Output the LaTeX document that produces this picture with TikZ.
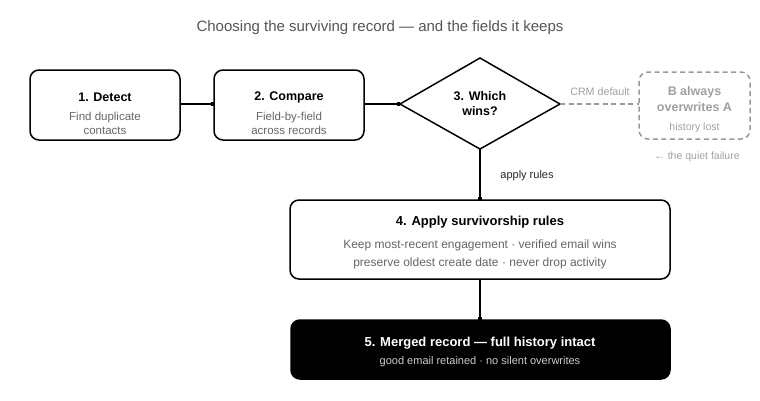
\documentclass[tikz,border=0pt]{standalone}
\usepackage{fontspec}
\setmainfont{Liberation Sans}
\usetikzlibrary{arrows.meta,shapes.geometric}
\definecolor{titlegray}{HTML}{555555}
\definecolor{subgray}{HTML}{666666}
\definecolor{ghost}{HTML}{999999}
\definecolor{ghosttext}{HTML}{A0A0A0}
\definecolor{lightsub}{HTML}{CCCCCC}
\tikzset{
  x=1pt,y=-1pt,
  stepbox/.style={draw=black,line width=1.5pt,rounded corners=9pt,fill=white,inner sep=0pt},
  ttl/.style={font=\bfseries\fontsize{12.5}{15}\selectfont,text=black},
  sub/.style={font=\fontsize{11.5}{14}\selectfont,text=subgray,align=center},
  conn/.style={draw=black,line width=1.5pt,-{Square[length=3pt,width=4pt]}},
}
\begin{document}
\begin{tikzpicture}
\useasboundingbox (0,0) rectangle (760,400);
\node[font=\fontsize{15}{17}\selectfont,text=titlegray] (title) at (380,28) {Choosing the surviving record — and the fields it keeps};

% box 1
\draw[stepbox] (30,70) rectangle (180,140);
\coordinate (b1r) at (180,104);
\node[ttl] (t1) at (105,97) {1. Detect};
\node[sub] (s1) at (105,123) {Find duplicate\\contacts};

% box 2
\draw[stepbox] (214,70) rectangle (364,140);
\coordinate (b2l) at (214,104);
\coordinate (b2r) at (364,104);
\node[ttl] (t2) at (289,97) {2. Compare};
\node[sub] (s2) at (289,123) {Field-by-field\\across records};

% diamond
\draw[line width=1.5pt,fill=white] (480,58) -- (560,104) -- (480,149) -- (400,104) -- cycle;
\coordinate (dl) at (400,104);
\coordinate (dr) at (560,104);
\coordinate (db) at (480,149);
\node[ttl,align=center] (t3) at (480,104) {3. Which\\wins?};

% dashed ghost box
\draw[draw=ghost,line width=1.5pt,dash pattern=on 5pt off 3.5pt,rounded corners=9pt] (639,72) rectangle (750,139);
\coordinate (gl) at (639,104);
\node[font=\bfseries\fontsize{12.5}{16}\selectfont,text=ghosttext,align=center] (t6) at (694.5,99) {B always\\overwrites A};
\node[font=\fontsize{10.5}{12}\selectfont,text=ghosttext] (s6) at (694.5,128) {history lost};
\node[font=\fontsize{10.5}{12}\selectfont,text=ghosttext] (qf) at (697,157) {← the quiet failure};
\draw[draw=ghost,line width=1.5pt,dash pattern=on 5pt off 3.5pt] (dr) -- (gl);
\node[font=\fontsize{10.7}{12}\selectfont,text=ghosttext] (crm) at (600,92) {CRM default};

% box 4
\draw[stepbox] (290,200) rectangle (670,279);
\coordinate (b4t) at (480,200);
\coordinate (b4b) at (480,279);
\node[font=\bfseries\fontsize{13}{15}\selectfont] (t4) at (480,222) {4. Apply survivorship rules};
\node[font=\fontsize{12}{18}\selectfont,text=subgray,align=center] (s4) at (480,254) {Keep most-recent engagement · verified email wins\\preserve oldest create date · never drop activity};

% box 5
\draw[stepbox,fill=black] (291,320) rectangle (670,379);
\coordinate (b5t) at (480,320);
\node[font=\bfseries\fontsize{13}{15}\selectfont,text=white] (t5) at (480,343) {5. Merged record — full history intact};
\node[font=\fontsize{11}{12}\selectfont,text=lightsub] (s5) at (480,362) {good email retained · no silent overwrites};

% connectors
\draw[conn] (b1r) -- (b2l);
\draw[conn] (b2r) -- (dl);
\draw[conn] (db) -- (b4t);
\draw[conn] (b4b) -- (b5t);
\node[font=\fontsize{11}{12}\selectfont,text=black!85] (ar) at (527,176) {apply rules};
\end{tikzpicture}
\end{document}
